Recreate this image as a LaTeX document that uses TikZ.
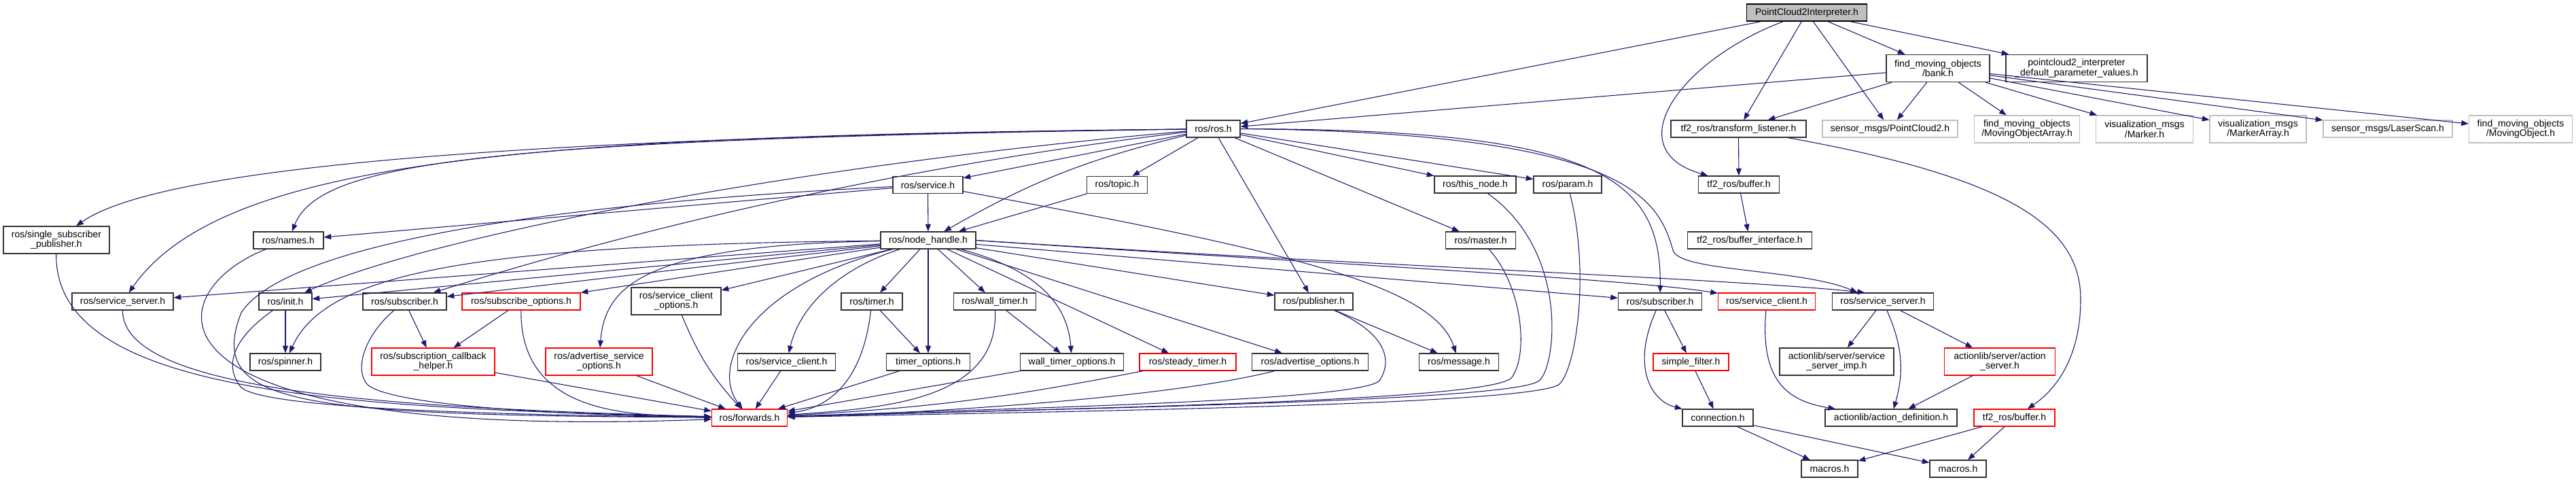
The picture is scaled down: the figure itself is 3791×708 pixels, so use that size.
\documentclass[tikz,border=0pt]{standalone}
\usepackage{fontspec}
\newfontfamily\hdrfont{Liberation Sans}
\usepackage{tikz}
\usetikzlibrary{arrows.meta}
\definecolor{edgeblue}{RGB}{25,25,112}
\definecolor{nofile}{RGB}{191,191,191}
\tikzset{file/.style={rectangle, draw=black!80, line width=0.9pt, fill=white, inner sep=0pt, align=center,
    minimum height=18.75pt, font=\hdrfont\fontsize{10.5pt}{10.8pt}\selectfont}}
\tikzset{tall/.style={minimum height=30pt}}
\tikzset{boxw/.style={minimum width=#1*0.75pt}}
\tikzset{redfile/.style={file, draw=red}}
\tikzset{extfile/.style={file, draw=nofile}}
\tikzset{rootfile/.style={file, draw=black, fill=nofile}}
\tikzset{dep/.style={draw=edgeblue, line width=0.8pt, -{Triangle[length=8pt, width=6pt]}}}

\begin{document}
\begin{tikzpicture}[x=0.75pt, y=-0.75pt]
    \useasboundingbox (0,0) rectangle (3791,708);

    % top of the graph
    \node[rootfile, boxw=177] (ROOT) at (2659,18.5) {PointCloud2Interpreter.h};
    \node[file, tall, boxw=152] (BANK) at (2852,100.5) {find\_moving\_objects\\/bank.h};
    \node[file, tall, boxw=208] (DEFPARAM) at (3056,100.5) {pointcloud2\_interpreter\\\_default\_parameter\_values.h};

    \node[file, boxw=79] (ROS) at (1785.5,189.5) {ros/ros.h};
    \node[file, boxw=199] (LISTENER) at (2558.5,189.5) {tf2\_ros/transform\_listener.h};
    \node[extfile, boxw=199] (PC2) at (2781.5,189.5) {sensor\_msgs/PointCloud2.h};
    \node[extfile, tall, boxw=155] (MOARRAY) at (2983,190) {find\_moving\_objects\\/MovingObjectArray.h};
    \node[extfile, tall, boxw=143] (MARKER) at (3156,190) {visualization\_msgs\\/Marker.h};
    \node[extfile, tall, boxw=142] (MARKERARR) at (3323,190) {visualization\_msgs\\/MarkerArray.h};
    \node[extfile, boxw=190] (LASER) at (3514,189.5) {sensor\_msgs/LaserScan.h};
    \node[extfile, tall, boxw=152] (MOVOBJ) at (3709.5,190) {find\_moving\_objects\\/MovingObject.h};

    \node[file, boxw=103] (SERVICE) at (1365.5,272) {ros/service.h};
    \node[file, boxw=89] (TOPIC) at (1644,272) {ros/topic.h};
    \node[file, boxw=120] (THISNODE) at (2171,271.5) {ros/this\_node.h};
    \node[file, boxw=100] (PARAM) at (2307,271.5) {ros/param.h};
    \node[file, boxw=119] (TFBUF) at (2559,271.5) {tf2\_ros/buffer.h};

    \node[file, tall, boxw=156] (SINGLESUB) at (83,353) {ros/single\_subscriber\\\_publisher.h};
    \node[file, boxw=103] (NAMES) at (424.5,353.5) {ros/names.h};
    \node[file, boxw=140] (NH) at (1366,353.5) {ros/node\_handle.h};
    \node[file, boxw=103] (MASTER) at (2179,353.5) {ros/master.h};
    \node[file, boxw=183] (BUFIFACE) at (2575,353.5) {tf2\_ros/buffer\_interface.h};

    \node[file, boxw=149] (SSERVL) at (180.5,443.5) {ros/service\_server.h};
    \node[file, boxw=78] (INIT) at (420,443.5) {ros/init.h};
    \node[file, boxw=123] (SUBL) at (595.5,443.5) {ros/subscriber.h};
    \node[redfile, boxw=174] (SUBOPTS) at (767,443.5) {ros/subscribe\_options.h};
    \node[file, tall, boxw=132] (SCLOPTS) at (995,443) {ros/service\_client\\\_options.h};
    \node[file, boxw=90] (TIMER) at (1283,443.5) {ros/timer.h};
    \node[file, boxw=121] (WTIMER) at (1464,443.5) {ros/wall\_timer.h};
    \node[file, boxw=115] (PUB) at (1933.5,443.5) {ros/publisher.h};
    \node[file, boxw=123] (SUBR) at (2443,443.5) {ros/subscriber.h};
    \node[redfile, boxw=143] (SCLR) at (2600,443.5) {ros/service\_client.h};
    \node[file, boxw=149] (SSERVR) at (2771,443.5) {ros/service\_server.h};

    \node[file, boxw=104] (SPINNER) at (420,532.5) {ros/spinner.h};
    \node[redfile, tall, boxw=181] (CBHELPER) at (637.5,532) {ros/subscription\_callback\\\_helper.h};
    \node[redfile, tall, boxw=157] (ADVSOPTS) at (881.5,532) {ros/advertise\_service\\\_options.h};
    \node[file, boxw=144] (SCLL) at (1157.5,532.5) {ros/service\_client.h};
    \node[file, boxw=123] (TOPTS) at (1366,532.5) {timer\_options.h};
    \node[file, boxw=152] (WTOPTS) at (1577.5,532.5) {wall\_timer\_options.h};
    \node[redfile, boxw=142] (STIMER) at (1748,532.5) {ros/steady\_timer.h};
    \node[file, boxw=171] (ADVOPTS) at (1928,532.5) {ros/advertise\_options.h};
    \node[file, boxw=117] (MESSAGE) at (2147,532.5) {ros/message.h};
    \node[redfile, boxw=111] (SFILTER) at (2488.5,532.5) {simple\_filter.h};
    \node[file, tall, boxw=168] (SERVIMP) at (2703,532) {actionlib/server/service\\\_server\_imp.h};
    \node[redfile, tall, boxw=163] (ASERVER) at (2943,532) {actionlib/server/action\\\_server.h};

    \node[redfile, boxw=111] (FWD) at (1103,614.5) {ros/forwards.h};
    \node[file, boxw=104] (CONN) at (2528,614.5) {connection.h};
    \node[file, boxw=194] (ADEF) at (2783,614.5) {actionlib/action\_definition.h};
    \node[redfile, boxw=119] (TFBUFR) at (2964.5,614.5) {tf2\_ros/buffer.h};

    \node[file, boxw=83] (MACROSL) at (2692.5,689.5) {macros.h};
    \node[file, boxw=83] (MACROSR) at (2881.5,689.5) {macros.h};

    % includes of the header itself
    \draw[dep] (ROOT) -- (ROS);
    \draw[dep] (ROOT) .. controls (2470,90) and (2380,220) .. (TFBUF);
    \draw[dep] (ROOT) -- (LISTENER);
    \draw[dep] (ROOT) -- (PC2);
    \draw[dep] (ROOT) -- (BANK);
    \draw[dep] (ROOT) -- (DEFPARAM);

    \draw[dep] (BANK) -- (ROS);
    \draw[dep] (BANK) -- (LISTENER);
    \draw[dep] (BANK) -- (PC2);
    \draw[dep] (BANK) -- (MOARRAY);
    \draw[dep] (BANK) -- (MARKER);
    \draw[dep] (BANK) -- (MARKERARR);
    \draw[dep] (BANK) -- (LASER);
    \draw[dep] (BANK) -- (MOVOBJ);

    \draw[dep] (LISTENER) -- (TFBUF);
    \draw[dep] (LISTENER) .. controls (2950,260) and (3062,330) .. (3062,440)
        .. controls (3062,520) and (3030,570) .. (TFBUFR);
    \draw[dep] (TFBUF) -- (BUFIFACE);

    % ros/ros.h
    \draw[dep] (ROS) .. controls (900,200) and (250,235) .. (SINGLESUB);
    \draw[dep] (ROS) .. controls (800,200) and (330,230) .. (SSERVL);
    \draw[dep] (ROS) .. controls (700,205) and (470,240) .. (NAMES);
    \draw[dep] (ROS) .. controls (1100,250) and (600,360) .. (INIT);
    \draw[dep] (ROS) .. controls (1200,260) and (800,380) .. (SUBL);
    \draw[dep] (ROS) -- (SERVICE);
    \draw[dep] (ROS) -- (TOPIC);
    \draw[dep] (ROS) to[bend right=8] (NH);
    \draw[dep] (ROS) -- (THISNODE);
    \draw[dep] (ROS) -- (PARAM);
    \draw[dep] (ROS) -- (MASTER);
    \draw[dep] (ROS) -- (PUB);
    \draw[dep] (ROS) .. controls (2350,190) and (2445,260) .. (SUBR);
    \draw[dep] (ROS.east) .. controls (2390,195) and (2440,290) .. (2462,368)
        .. controls (2470,400) and (2650,395) .. ([xshift=-28pt]SSERVR.north);

    % ros/node_handle.h
    \draw[dep] (NH) .. controls (1100,420) and (1045,540) .. (FWD);
    \draw[dep] (NH) -- (SSERVL);
    \draw[dep] (NH) -- (INIT);
    \draw[dep] (NH) -- (SUBL);
    \draw[dep] (NH) .. controls (700,360) and (480,400) .. (SPINNER);
    \draw[dep] (NH) -- (SUBOPTS);
    \draw[dep] (NH) -- (SCLOPTS);
    \draw[dep] (NH) .. controls (950,360) and (890,420) .. (ADVSOPTS);
    \draw[dep] (NH) .. controls (1250,390) and (1180,440) .. (SCLL);
    \draw[dep] (NH) -- (TIMER);
    \draw[dep] (NH) -- (TOPTS);
    \draw[dep] (NH) -- (WTIMER);
    \draw[dep] (NH) .. controls (1500,390) and (1570,430) .. (WTOPTS);
    \draw[dep] (NH) -- (STIMER);
    \draw[dep] (NH) -- (ADVOPTS);
    \draw[dep] (NH) -- (PUB);
    \draw[dep] (NH) -- (SUBR);
    \draw[dep] (NH.east) .. controls (1900,385) and (2400,410) .. (SCLR);
    \draw[dep] (NH.east) .. controls (2000,390) and (2550,410) .. ([xshift=-20pt]SSERVR.north);

    \draw[dep] (SERVICE) -- (NH);
    \draw[dep] (SERVICE) -- (NAMES);
    \draw[dep] (SERVICE) .. controls (800,300) and (420,360) .. (355,460)
        .. controls (300,600) and (450,610) .. (FWD);
    \draw[dep] (SERVICE) .. controls (1900,370) and (2110,420) .. (MESSAGE);
    \draw[dep] (TOPIC) -- (NH);

    % everything that ends in ros/forwards.h
    \draw[dep] (SINGLESUB) .. controls (80,580) and (500,600) .. (FWD);
    \draw[dep] (SSERVL) .. controls (180,580) and (600,600) .. (FWD);
    \draw[dep] (NAMES) .. controls (230,430) and (180,650) .. (FWD);
    \draw[dep] (INIT) .. controls (340,500) and (330,540) .. (355,570)
        .. controls (390,600) and (700,610) .. (FWD);
    \draw[dep] (SUBL) .. controls (540,490) and (520,540) .. (540,565)
        .. controls (570,595) and (800,610) .. (FWD);
    \draw[dep] (CBHELPER) -- (FWD);
    \draw[dep] (SUBOPTS) .. controls (765,620) and (950,610) .. (FWD);
    \draw[dep] (ADVSOPTS) -- (FWD);
    \draw[dep] (SCLOPTS) to[bend right=10] (FWD);
    \draw[dep] (SCLL) -- (FWD);
    \draw[dep] (TIMER) .. controls (1270,560) and (1220,600) .. (FWD);
    \draw[dep] (TOPTS) -- (FWD);
    \draw[dep] (WTIMER) .. controls (1470,590) and (1300,600) .. (FWD);
    \draw[dep] (WTOPTS) -- (FWD);
    \draw[dep] (STIMER) to[bend left=4] (FWD);
    \draw[dep] (ADVOPTS) .. controls (1700,590) and (1300,610) .. (FWD);
    \draw[dep] (PUB) .. controls (2040,490) and (2050,530) .. (2030,560)
        .. controls (2000,590) and (1500,600) .. (FWD);
    \draw[dep] (MASTER) .. controls (2240,420) and (2250,520) .. (2225,555)
        .. controls (2200,590) and (1600,600) .. (FWD);
    \draw[dep] (THISNODE) .. controls (2310,370) and (2290,540) .. (2265,560)
        .. controls (2230,590) and (1600,600) .. (FWD);
    \draw[dep] (PARAM) .. controls (2340,400) and (2320,540) .. (2295,565)
        .. controls (2260,595) and (1600,605) .. (FWD);

    \draw[dep] (SUBL) -- (CBHELPER);
    \draw[dep] (SUBOPTS) -- (CBHELPER);
    \draw[dep] (INIT) -- (SPINNER);
    \draw[dep] (TIMER) -- (TOPTS);
    \draw[dep] (WTIMER) -- (WTOPTS);
    \draw[dep] (PUB) -- (MESSAGE);

    % right hand side
    \draw[dep] (SUBR) .. controls (2400,540) and (2430,590) .. (CONN);
    \draw[dep] (SUBR) -- (SFILTER);
    \draw[dep] (SFILTER) -- (CONN);
    \draw[dep] (CONN) -- (MACROSL);
    \draw[dep] (CONN) -- (MACROSR);
    \draw[dep] (TFBUFR) -- (MACROSL);
    \draw[dep] (TFBUFR) -- (MACROSR);
    \draw[dep] (SCLR) .. controls (2590,560) and (2630,590) .. (ADEF);
    \draw[dep] (SSERVR) -- (SERVIMP);
    \draw[dep] (SSERVR) to[bend left=20] (ADEF);
    \draw[dep] (SSERVR) -- (ASERVER);
    \draw[dep] (ASERVER) -- (ADEF);
\end{tikzpicture}
\end{document}
